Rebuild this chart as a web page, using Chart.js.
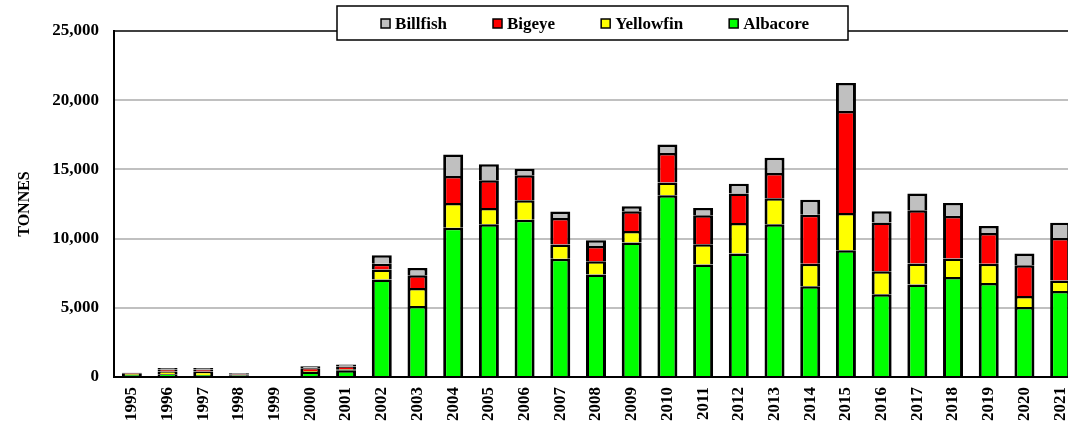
<!DOCTYPE html>
<html>
<head>
<meta charset="utf-8">
<script src="https://cdn.jsdelivr.net/npm/chart.js@4/dist/chart.umd.min.js"></script>
<style>
  body { margin: 0; background: #fff; overflow: hidden; }
  #chart { display: block; }
</style>
</head>
<body>
<canvas id="chart" width="1068" height="430"></canvas>
<script>
const years = ['1995','1996','1997','1998','1999','2000','2001','2002','2003','2004','2005','2006','2007','2008',
  '2009','2010','2011','2012','2013','2014','2015','2016','2017','2018','2019','2020','2021'];

// tonnes per species, bottom of the stack first
const albacore = [150, 200, 150, 120, 0, 360, 480, 7040, 5130, 10790, 11030, 11370, 8550, 7400,
  9710, 13130, 8120, 8920, 11030, 6550, 9150, 5980, 6680, 7230, 6790, 5060, 6210];
const yellowfin = [60, 200, 250, 60, 0, 80, 80, 720, 1300, 1780, 1180, 1400, 1030, 960,
  840, 920, 1470, 2210, 1880, 1640, 2700, 1660, 1520, 1330, 1400, 790, 770];
const bigeye = [60, 150, 150, 60, 0, 200, 200, 430, 920, 1950, 2000, 1810, 1900, 1110,
  1420, 2140, 2100, 2120, 1830, 3540, 7370, 3520, 3850, 3080, 2210, 2220, 3060];
const billfish = [30, 100, 100, 40, 0, 130, 140, 600, 530, 1550, 1160, 460, 480, 410,
  360, 610, 530, 720, 1110, 1080, 2020, 820, 1210, 940, 510, 850, 1110];

const yTicks = [0, 5000, 10000, 15000, 20000, 25000];

const FONT = "'Liberation Serif', 'Times New Roman', serif";

function makeSet(label, data, color) {
    return {
        label: label,
        data: data,
        backgroundColor: color,
        borderColor: '#000',
        // no bottom edge: the segment below supplies the dividing line
        borderWidth: { top: 2.5, left: 3, right: 3, bottom: 0 },
        borderSkipped: false,
        barPercentage: 0.56,
        categoryPercentage: 1.0
    };
}

// the original plot runs a little past the right edge of the picture,
// so stretch the x scale and chart area after layout
const PLOT_RIGHT = 1078;
const widenPlot = {
    id: 'widenPlot',
    afterLayout(chart) {
        const xs = chart.scales.x;
        chart.chartArea.right = PLOT_RIGHT;
        chart.chartArea.width = PLOT_RIGHT - chart.chartArea.left;
        xs.right = PLOT_RIGHT;
        xs.width = PLOT_RIGHT - xs.left;
        xs.configure();
        chart.scales.y.configure();
    }
};

// legend drawn in a white box that sits over the top border
const boxLegend = {
    id: 'boxLegend',
    afterDraw(chart) {
        const ctx = chart.ctx;
        const items = chart.data.datasets.slice().reverse();
        ctx.save();
        ctx.fillStyle = '#fff';
        ctx.fillRect(337, 6, 511, 34);
        ctx.strokeStyle = '#000';
        ctx.lineWidth = 1.5;
        ctx.strokeRect(337, 6, 511, 34);

        ctx.font = 'bold 17px ' + FONT;
        ctx.textBaseline = 'alphabetic';
        const gap = 46;
        const widths = items.map(ds => 9 + 5 + ctx.measureText(ds.label).width);
        const total = widths.reduce((a, b) => a + b, 0) + gap * (items.length - 1);
        let x = 595 - total / 2;
        items.forEach((ds, i) => {
            ctx.fillStyle = ds.backgroundColor;
            ctx.fillRect(x, 19, 9, 9);
            ctx.lineWidth = 1.5;
            ctx.strokeStyle = '#000';
            ctx.strokeRect(x, 19, 9, 9);
            ctx.fillStyle = '#000';
            ctx.fillText(ds.label, x + 14, 29);
            x += widths[i] + gap;
        });
        ctx.restore();
    }
};

new Chart(document.getElementById('chart'), {
    type: 'bar',
    data: {
        labels: years,
        datasets: [
            makeSet('Albacore', albacore, '#00ff00'),
            makeSet('Yellowfin', yellowfin, '#ffff00'),
            makeSet('Bigeye', bigeye, '#ff0000'),
            makeSet('Billfish', billfish, '#c0c0c0')
        ]
    },
    options: {
        responsive: false,
        animation: false,
        layout: { padding: { top: 31, left: 0, right: 0, bottom: 0 } },
        plugins: {
            legend: { display: false },
            tooltip: { enabled: false }
        },
        scales: {
            x: {
                stacked: true,
                grid: { display: false, drawTicks: false },
                border: { color: '#000', width: 2 },
                ticks: {
                    color: '#000',
                    font: { family: FONT, size: 17, weight: 'bold' },
                    minRotation: 90,
                    maxRotation: 90,
                    padding: 10,
                    autoSkip: false
                },
                afterFit(scale) { scale.height = 53; }
            },
            y: {
                stacked: true,
                min: 0,
                max: 25000,
                afterBuildTicks(scale) { scale.ticks = yTicks.map(v => ({ value: v })); },
                grid: {
                    color: ctx => ctx.tick && ctx.tick.value === 25000 ? '#404040' : '#c0c0c0',
                    lineWidth: 2,
                    drawTicks: false
                },
                border: { color: '#000', width: 2 },
                ticks: {
                    color: '#000',
                    padding: 15,
                    font: { family: FONT, size: 17, weight: 'bold' },
                    callback: v => v.toLocaleString('en-US')
                },
                title: {
                    display: true,
                    text: 'TONNES',
                    color: '#000',
                    font: { family: FONT, size: 16, weight: 'bold' },
                    padding: { top: 15, bottom: 0 }
                },
                afterFit(scale) { scale.width = 114; }
            }
        }
    },
    plugins: [widenPlot, boxLegend]
});
</script>
</body>
</html>
